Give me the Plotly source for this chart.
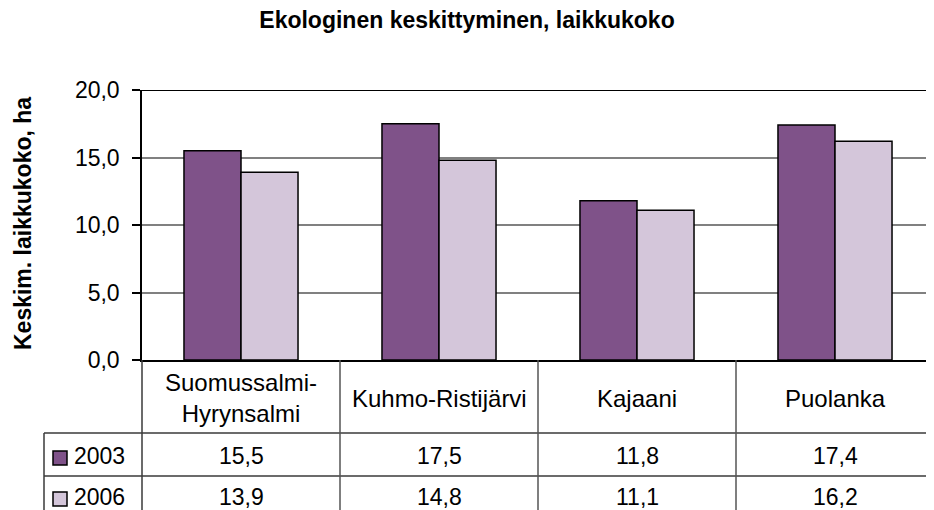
import plotly.graph_objects as go

# ------------------------------------------------------------
# DATA
# ------------------------------------------------------------

categories = ["Suomussalmi-<br>Hyrynsalmi", "Kuhmo-Ristijärvi", "Kajaani", "Puolanka"]
years = ["2003", "2006"]
values_2003 = [15.5, 17.5, 11.8, 17.4]
values_2006 = [13.9, 14.8, 11.1, 16.2]
y_ticks = [0, 5, 10, 15, 20]

title_text = "Ekologinen keskittyminen, laikkukoko"
y_title = "Keskim. laikkukoko, ha"

# ------------------------------------------------------------
# LAYOUT GEOMETRY (pixels of the 934x510 window)
# the page body has an 8px margin, so the figure starts at (8, 8)
# ------------------------------------------------------------

OFF = 8
W, H = 934 - OFF, 510 - OFF
plot_left, plot_right, plot_top, plot_bottom = 142, 934, 90, 360
L, R, T = plot_left - OFF, 934 - plot_right, plot_top - OFF
B = H - (plot_bottom - OFF)
PW, PH = W - L - R, H - T - B

FONT = "Arial, Liberation Sans, sans-serif"
colors = ["#7F5289", "#D4C6DA"]
line_col = "#3a3a3a"


def px_x(px):
    return (px - plot_left) / PW


def px_y(py):
    return (plot_bottom - py) / PH


fig = go.Figure()

for name, vals, col in zip(years, [values_2003, values_2006], colors):
    fig.add_trace(go.Bar(
        x=list(range(len(categories))),
        y=vals,
        name=name,
        marker=dict(color=col, line=dict(color="black", width=1.5)),
        showlegend=False,
    ))

# ------------------------------------------------------------
# DATA TABLE UNDER THE CHART
# ------------------------------------------------------------

row1_top, row2_top, tbl_bottom = 433, 476, 530
shapes = []

# top border of plot area
shapes.append(dict(type="line", xref="paper", yref="y", x0=0, x1=1, y0=20, y1=20,
                   line=dict(color="black", width=2)))

for py in [row1_top, row2_top]:
    shapes.append(dict(type="line", xref="paper", yref="paper",
                       x0=px_x(44), x1=1, y0=px_y(py), y1=px_y(py),
                       line=dict(color=line_col, width=1.5)))

shapes.append(dict(type="line", xref="paper", yref="paper",
                   x0=px_x(44), x1=px_x(44), y0=px_y(row1_top), y1=px_y(tbl_bottom),
                   line=dict(color=line_col, width=1.5)))
shapes.append(dict(type="line", xref="paper", yref="paper",
                   x0=0, x1=0, y0=0, y1=px_y(tbl_bottom),
                   line=dict(color=line_col, width=1.5)))
for i in range(len(categories) - 1):
    shapes.append(dict(type="line", xref="x", yref="paper",
                       x0=i + 0.5, x1=i + 0.5, y0=0, y1=px_y(tbl_bottom),
                       line=dict(color="#555555", width=1.5)))

annotations = []
cat_font = dict(family=FONT, size=24, color="black")
val_font = dict(family=FONT, size=23, color="black")

for i, cat in enumerate(categories):
    annotations.append(dict(x=i, y=px_y(398), xref="x", yref="paper", text=cat,
                            showarrow=False, font=cat_font, xanchor="center",
                            yanchor="middle"))

row_centers = [456, 497]
for r, (name, vals, col) in enumerate(zip(years, [values_2003, values_2006], colors)):
    cy = row_centers[r]
    shapes.append(dict(type="rect", xref="paper", yref="paper",
                       x0=px_x(53), x1=px_x(67), y0=px_y(cy - 5), y1=px_y(cy + 9),
                       fillcolor=col, line=dict(color="black", width=1.5)))
    annotations.append(dict(x=px_x(72), y=px_y(cy), xref="paper", yref="paper",
                            text=name, showarrow=False, font=val_font,
                            xanchor="left", yanchor="middle"))
    for i, v in enumerate(vals):
        annotations.append(dict(x=i, y=px_y(cy), xref="x", yref="paper",
                                text=f"{v:.1f}".replace(".", ","), showarrow=False,
                                font=val_font, xanchor="center", yanchor="middle"))

# y axis title
annotations.append(dict(x=px_x(23), y=px_y(224), xref="paper", yref="paper",
                        text=f"<b>{y_title}</b>", textangle=-90, showarrow=False,
                        font=dict(family=FONT, size=23, color="black"),
                        xanchor="center", yanchor="middle"))

# ------------------------------------------------------------
# LAYOUT
# ------------------------------------------------------------

fig.update_layout(
    width=W, height=H, autosize=False,
    margin=dict(l=L, r=R, t=T, b=B, pad=0),
    paper_bgcolor="white", plot_bgcolor="white",
    barmode="group", bargap=0.424, bargroupgap=0,
    separators=",.",
    font=dict(family=FONT, size=22, color="black"),
    title=dict(text=f"<b>{title_text}</b>", x=(467 - OFF) / W, xref="container",
               xanchor="center", y=1 - (20 - OFF) / H, yref="container",
               yanchor="middle",
               font=dict(family=FONT, size=23, color="black")),
    shapes=shapes,
    annotations=annotations,
)

fig.update_xaxes(range=[-0.5, len(categories) - 0.5], showticklabels=False,
                 showgrid=False, zeroline=False, showline=True,
                 linecolor="black", linewidth=1.5, ticks="")
fig.update_yaxes(range=[0, 20], tickvals=y_ticks, tickformat=".1f",
                 showgrid=True, gridcolor="#808080", gridwidth=1.5,
                 zeroline=False, showline=True, linecolor="black", linewidth=1.5,
                 ticks="outside", ticklen=8, tickcolor="black", tickwidth=1.5,
                 ticklabelstandoff=8,
                 tickfont=dict(family=FONT, size=23, color="black"))

fig.write_html("out.html")
